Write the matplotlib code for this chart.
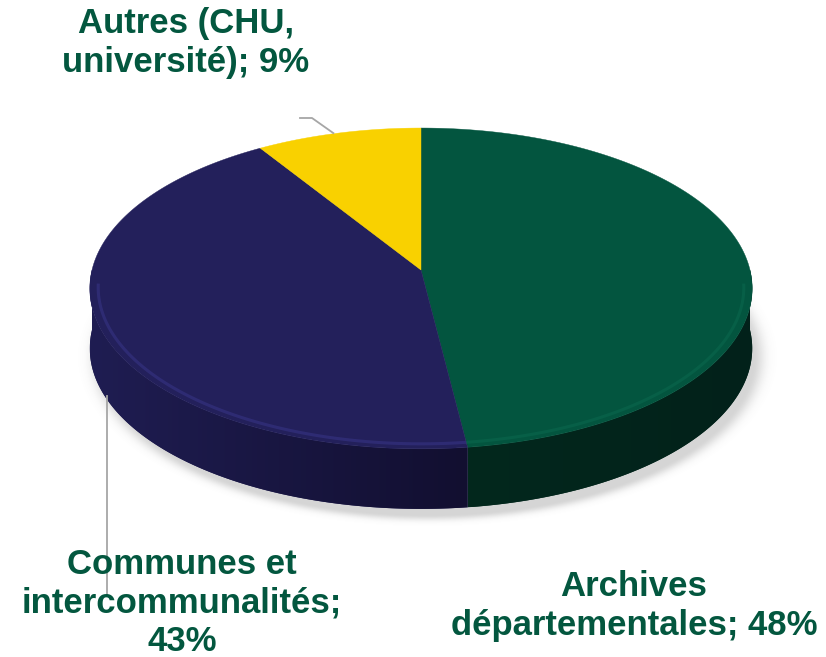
import numpy as np
import matplotlib
matplotlib.use("Agg")
import matplotlib.pyplot as plt
from matplotlib.patches import Polygon

# ---- data ----
categories = ["Archives\ndépartementales; 48%",
              "Communes et\nintercommunalités;\n43%",
              "Autres (CHU,\nuniversité); 9%"]
values = [48, 43, 9]
top_colors = ["#03553F", "#23205B", "#F9D100"]
side_left = ["#03281D", "#1F1D52", "#8A7400"]
side_right = ["#02211A", "#120F30", "#6A5800"]
rim_colors = ["#0B6A4F", "#3A378C", "#FFE24A"]
text_color = "#03573F"

# ---- layout ----
W, H = 826, 657
CX, CY = 421, 270          # projected centre of the disc
SX, SY = 329, 158.3        # projected radii scale
K = 0.115                  # perspective strength
DEPTH = 60

fig = plt.figure(figsize=(W / 100, H / 100), dpi=100)
ax = fig.add_axes([0, 0, 1, 1])
ax.set_xlim(0, W)
ax.set_ylim(H, 0)
ax.axis("off")


def ept(t, dy=0.0, s=1.0):
    t = np.radians(np.asarray(t, float))
    den = 1 + K * s * np.sin(t)
    return CX + SX * s * np.cos(t) / den, CY - SY * s * np.sin(t) / den + dy


# slice angles (start at 12 o'clock, clockwise)
fr = np.array(values, float) / sum(values)
ends = 90 - np.cumsum(fr) * 360
starts = np.concatenate([[90], ends[:-1]])

# ---- shadow ----
yy, xx = np.mgrid[0:H, 0:W]
tt = np.linspace(0, 360, 721)
ex, ey = ept(tt, DEPTH + 8)
ecx, ecy = (ex.max() + ex.min()) / 2 + 6, (ey.max() + ey.min()) / 2
erx, ery = (ex.max() - ex.min()) / 2 + 4, (ey.max() - ey.min()) / 2 + 2
d = np.sqrt(((xx - ecx) / erx) ** 2 + ((yy - ecy) / ery) ** 2)
alpha = 0.30 * np.exp(-((np.maximum(d - 0.97, 0)) / 0.035) ** 2)
shadow = np.zeros((H, W, 4))
shadow[..., :3] = 0.45
shadow[..., 3] = alpha
ax.imshow(shadow, extent=(0, W, H, 0), zorder=0, interpolation="bilinear")

# ---- sides (front half only) ----
for i, (a0, a1) in enumerate(zip(starts, ends)):
    p, q = a1, a0
    for shift in (-360, 0, 360):
        s0, s1 = max(p + shift, 180), min(q + shift, 360)
        if s1 > s0:
            ts = np.linspace(s0, s1, 160)
            xt, yt = ept(ts)
            xb, yb = ept(ts[::-1], DEPTH)
            verts = np.column_stack([np.concatenate([xt, xb]), np.concatenate([yt, yb])])
            poly = Polygon(verts, closed=True, facecolor=side_left[i], edgecolor="none", zorder=1)
            ax.add_patch(poly)
            x0, x1 = verts[:, 0].min(), verts[:, 0].max()
            cl = np.array(matplotlib.colors.to_rgb(side_left[i]))
            cr = np.array(matplotlib.colors.to_rgb(side_right[i]))
            g = np.linspace(0, 1, 200)[None, :, None]
            img = cl[None, None, :] * (1 - g) + cr[None, None, :] * g
            im = ax.imshow(img, extent=(x0, x1, yb.max(), yt.min()), zorder=1.5,
                           aspect="auto", interpolation="bilinear")
            im.set_clip_path(poly)

# ---- top face ----
for i, (a0, a1) in enumerate(zip(starts, ends)):
    ts = np.linspace(a1, a0, 240)
    xt, yt = ept(ts)
    verts = np.column_stack([np.concatenate([[CX], xt]), np.concatenate([[CY], yt])])
    ax.add_patch(Polygon(verts, closed=True, facecolor=top_colors[i],
                         edgecolor=top_colors[i], lw=0.3, zorder=3))
    # bevel highlight along the front edge
    p, q = a1, a0
    for shift in (-360, 0, 360):
        s0, s1 = max(p + shift, 185), min(q + shift, 355)
        if s1 > s0:
            th = np.linspace(s0, s1, 120)
            xh, yh = ept(th, s=0.975)
            ax.plot(xh, yh, color=rim_colors[i], lw=2.2, alpha=0.5, zorder=4,
                    solid_capstyle="butt")

# ---- leader lines & labels ----
lead = "#A6A6A6"
mid = (starts + ends) / 2

# Autres
ax_, ay_ = ept(mid[2])
ax.plot([300, 312, ax_ - 5], [118, 118, ay_], color=lead, lw=1.3, zorder=5)
# Communes
bx_, by_ = ept(mid[1], DEPTH)
ax.plot([bx_ + 8, bx_ + 8], [by_ + 10, 595], color=lead, lw=1.3, zorder=5)

fs = 25
kw = dict(fontfamily="Liberation Sans", fontweight="bold", color=text_color,
          fontsize=fs, ha="center", va="center", linespacing=1.22, zorder=6)
ax.text(186, 43, categories[2], **kw)
ax.text(182, 603, categories[1], **kw)
ax.text(634, 606, categories[0], **kw)

fig.savefig("out.png", dpi=100)
